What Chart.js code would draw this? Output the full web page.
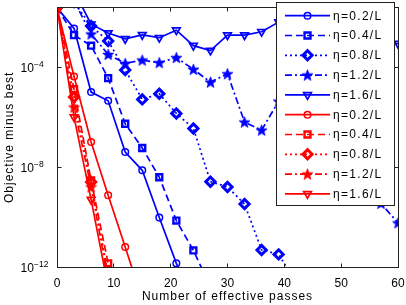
<!DOCTYPE html>
<html>
<head>
<meta charset="utf-8">
<script src="https://cdn.jsdelivr.net/npm/chart.js@4.4.1/dist/chart.umd.min.js"></script>
<style>
  html, body { margin: 0; padding: 0; background: #fff; }
</style>
</head>
<body>
<canvas id="chart" width="406" height="305"></canvas>
<script>
// passes (x) shared by every series, markers every 3 passes
const passes = [0, 3, 6, 9, 12, 15, 18, 21, 24, 27, 30, 33, 36, 39, 42, 45, 48, 51, 54, 57, 60];

// blue runs
const blue02 = [2.4e-2, 3.5e-3, 1.0e-5, 4.5e-6, 4.0e-8, 7.4e-9, 9.5e-11, 1.4e-12, 3.0e-14];
const blue04 = [2.4e-2, 1.9e-3, 7.2e-4, 3.6e-5, 5.4e-7, 5.8e-8, 3.9e-9, 7.2e-11, 4.6e-12, 1.6e-13];
const blue08 = [2.4e-2, 4.0e-2, 4.4e-3, 1.1e-3, 7.6e-5, 5.1e-6, 8.5e-6, 1.4e-6, 3.5e-7, 2.6e-9, 1.6e-9, 3.3e-10, 4.8e-12, 3.2e-12, 2.5e-13];
const blue12 = [2.4e-2, 4.5e-2, 2.1e-3, 3.2e-4, 1.4e-4, 1.9e-4, 1.5e-4, 2.4e-4, 8.1e-5, 2.5e-5, 5.4e-5, 6.3e-7, 3.0e-7, 4.3e-6, 6.3e-6, 1.0e-6, 1.6e-7, 3.2e-8, 3.2e-9, 3.5e-10, 5.8e-11];
const blue16 = [2.4e-2, 1.1e-1, 5.2e-3, 2.3e-3, 1.35e-3, 1.95e-3, 1.5e-3, 3.0e-3, 7.2e-4, 4.6e-4, 1.9e-3, 1.9e-3, 2.6e-3, 6.3e-3, 4.0e-3, 2.5e-3, 1.3e-3, 2.0e-3, 1.3e-3, 1.0e-3, 8.7e-4];

// red runs
const red02 = [2.4e-2, 4.2e-5, 1.0e-7, 7.4e-10, 6.3e-12, 5.0e-14];
const red04 = [2.4e-2, 1.3e-5, 2.9e-9, 1.4e-12, 1.0e-15];
const red08 = [2.4e-2, 6.3e-6, 2.5e-9, 5.0e-13];
const red12 = [2.4e-2, 2.5e-6, 1.6e-9, 3.2e-13];
const red16 = [2.4e-2, 1.0e-6, 5.0e-10, 1.6e-13];

const stepLabels = ['η=0.2/L', 'η=0.4/L', 'η=0.8/L', 'η=1.2/L', 'η=1.6/L'];
const xTicks = [0, 10, 20, 30, 40, 50, 60];
const yTicks = [1e-4, 1e-8, 1e-12];
const yTickExp = ['−4', '−8', '−12'];

const BLUE = '#0000ff';
const RED = '#ff0000';
const FONT = '"Liberation Sans", Arial, sans-serif';

// filled five point star, Chart.js has no pentagram
function starImage(color) {
  const c = document.createElement('canvas');
  c.width = 13; c.height = 13;
  const g = c.getContext('2d');
  g.beginPath();
  for (let k = 0; k < 10; k++) {
    const r = k % 2 === 0 ? 5.8 : 2.4;
    const ang = -Math.PI / 2 + k * Math.PI / 5;
    const px = 6.5 + r * Math.cos(ang), py = 7 + r * Math.sin(ang);
    if (k === 0) g.moveTo(px, py); else g.lineTo(px, py);
  }
  g.closePath();
  g.fillStyle = color;
  g.fill();
  g.strokeStyle = color;
  g.lineWidth = 0.8;
  g.stroke();
  return c;
}

// line style per step size
const styles = [
  { dash: [], point: 'circle', radius: 3.3, rotation: 0, pw: 1.5 },
  { dash: [7, 4], point: 'rect', radius: 4.2, rotation: 0, pw: 2.4 },
  { dash: [2, 3], point: 'rectRot', radius: 4.6, rotation: 0, pw: 3 },
  { dash: [7, 3, 2, 3], point: 'star', radius: 5, rotation: 0, pw: 1.5 },
  { dash: [], point: 'triangle', radius: 4.4, rotation: 180, pw: 1.7 }
];

const starBlue = starImage(BLUE);
const starRed = starImage(RED);

function makeDataset(values, i, color) {
  const st = styles[i];
  let ps = st.point;
  if (ps === 'star') ps = color === BLUE ? starBlue : starRed;
  return {
    label: stepLabels[i],
    data: values.map((v, k) => ({ x: passes[k], y: v })),
    borderColor: color,
    backgroundColor: color,
    borderWidth: 1.7,
    borderDash: st.dash,
    pointStyle: ps,
    pointRadius: st.radius,
    pointRotation: st.rotation,
    pointBorderWidth: st.pw,
    pointBorderColor: color,
    pointBackgroundColor: 'rgba(0,0,0,0)',
    tension: 0,
    clip: 0,
    fill: false
  };
}

const blueRuns = [blue02, blue04, blue08, blue12, blue16];
const redRuns = [red02, red04, red08, red12, red16];
const datasets = [];
blueRuns.forEach((v, i) => datasets.push(makeDataset(v, i, BLUE)));
redRuns.forEach((v, i) => datasets.push(makeDataset(v, i, RED)));
// later lines on top, like the original plot order
datasets.forEach((d, i) => { d.order = datasets.length - i; });

function drawMarker(ctx, ds, x, y) {
  ctx.save();
  ctx.setLineDash([]);
  ctx.strokeStyle = ds.borderColor;
  ctx.fillStyle = 'rgba(0,0,0,0)';
  ctx.lineWidth = ds.pointBorderWidth;
  if (Chart.helpers && Chart.helpers.drawPoint) {
    Chart.helpers.drawPoint(ctx, {
      pointStyle: ds.pointStyle,
      radius: ds.pointRadius,
      rotation: ds.pointRotation,
      borderWidth: ds.pointBorderWidth
    }, x, y);
  }
  ctx.restore();
}

const framePlugin = {
  id: 'frame',
  afterDraw(chart) {
    const ctx = chart.ctx;
    const a = chart.chartArea;
    const xs = chart.scales.x, ys = chart.scales.y;
    ctx.save();

    // axes box with inward ticks
    ctx.strokeStyle = '#222';
    ctx.lineWidth = 1;
    ctx.setLineDash([]);
    const L = Math.floor(a.left) + 0.5, R = Math.floor(a.right) + 0.5;
    const T = Math.floor(a.top) + 0.5, B = Math.floor(a.bottom) + 0.5;
    ctx.strokeRect(L, T, R - L, B - T);
    ctx.beginPath();
    xTicks.forEach(t => {
      const px = Math.floor(xs.getPixelForValue(t)) + 0.5;
      ctx.moveTo(px, B); ctx.lineTo(px, B - 4);
      ctx.moveTo(px, T); ctx.lineTo(px, T + 4);
    });
    yTicks.forEach(t => {
      const py = Math.floor(ys.getPixelForValue(t)) + 0.5;
      ctx.moveTo(L, py); ctx.lineTo(L + 4, py);
      ctx.moveTo(R, py); ctx.lineTo(R - 4, py);
    });
    ctx.stroke();

    // tick labels
    ctx.fillStyle = '#000';
    ctx.font = '12px ' + FONT;
    ctx.textBaseline = 'alphabetic';
    ctx.textAlign = 'center';
    xTicks.forEach(t => {
      ctx.fillText(String(t), xs.getPixelForValue(t), a.bottom + 19.5);
    });
    ctx.textAlign = 'left';
    yTicks.forEach((t, i) => {
      const py = ys.getPixelForValue(t);
      ctx.font = '12px ' + FONT;
      ctx.fillText('10', 20.5, py + 4.5);
      ctx.font = '8.5px ' + FONT;
      ctx.fillText(yTickExp[i], 34, py - 0.5);
    });

    // axis titles
    ctx.font = '12px ' + FONT;
    ctx.letterSpacing = '1px';
    ctx.textAlign = 'center';
    ctx.fillText('Number of effective passes', (a.left + a.right) / 2, 300);
    ctx.save();
    ctx.translate(12.5, (a.top + a.bottom) / 2);
    ctx.rotate(-Math.PI / 2);
    ctx.fillText('Objective minus best', 0, 0);
    ctx.restore();

    // legend
    const lg = { left: 276, top: 2, right: 394, bottom: 205 };
    ctx.fillStyle = '#fff';
    ctx.fillRect(lg.left, lg.top, lg.right - lg.left, lg.bottom - lg.top);
    ctx.strokeStyle = '#222';
    ctx.lineWidth = 1;
    ctx.strokeRect(lg.left + 0.5, lg.top + 0.5, lg.right - lg.left, lg.bottom - lg.top);
    ctx.letterSpacing = '1.3px';
    ctx.font = '12px ' + FONT;
    ctx.textAlign = 'left';
    ctx.textBaseline = 'middle';
    chart.data.datasets.forEach((ds, i) => {
      const y = lg.top + 13.7 + i * 19.8;
      ctx.save();
      ctx.strokeStyle = ds.borderColor;
      ctx.lineWidth = ds.borderWidth;
      ctx.setLineDash(ds.borderDash);
      ctx.beginPath();
      ctx.moveTo(lg.left + 9, y);
      ctx.lineTo(lg.left + 54, y);
      ctx.stroke();
      ctx.restore();
      drawMarker(ctx, ds, lg.left + 31.5, y);
      ctx.fillStyle = '#000';
      ctx.fillText(ds.label, lg.left + 57, y + 0.5);
    });
    ctx.restore();
  }
};

new Chart(document.getElementById('chart'), {
  type: 'line',
  data: { datasets: datasets },
  options: {
    responsive: false,
    animation: false,
    devicePixelRatio: 1,
    events: [],
    layout: { padding: { left: 57, right: 8, top: 1, bottom: 38 } },
    plugins: {
      legend: { display: false },
      tooltip: { enabled: false }
    },
    scales: {
      x: { type: 'linear', min: 0, max: 60, display: false },
      y: { type: 'logarithmic', min: 1e-12, max: 2.4e-2, display: false }
    }
  },
  plugins: [framePlugin]
});
</script>
</body>
</html>
